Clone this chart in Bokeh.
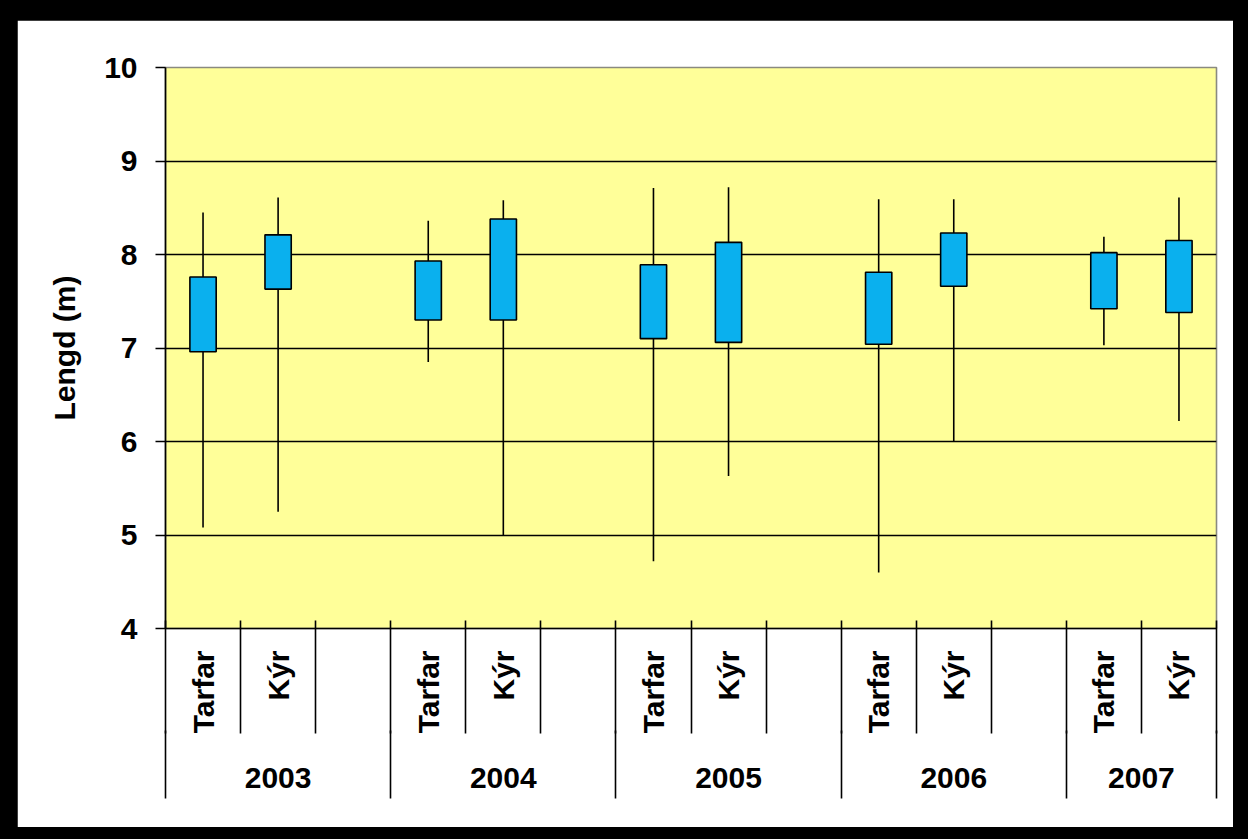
import math
from bokeh.plotting import figure
from bokeh.models import ColumnDataSource, Range1d, LinearAxis, FixedTicker
from bokeh.layouts import column
from bokeh.embed import file_html
from bokeh.resources import INLINE

# ---------------- data ----------------
years = ["2003", "2004", "2005", "2006", "2007"]
groups = ["Tarfar", "Kýr"]
low = [5.08, 5.25, 6.85, 5.00, 4.72, 5.63, 4.60, 6.00, 7.03, 6.22]
q1 = [6.96, 7.63, 7.30, 7.30, 7.10, 7.06, 7.04, 7.66, 7.42, 7.38]
q3 = [7.76, 8.21, 7.93, 8.38, 7.89, 8.13, 7.81, 8.23, 8.02, 8.15]
high = [8.45, 8.61, 8.36, 8.58, 8.71, 8.72, 8.59, 8.59, 8.19, 8.61]
y_ticks = [4, 5, 6, 7, 8, 9, 10]
y_label = "Lengd (m)"

# ---------------- styles ----------------
FONT = "Liberation Sans"
FS = "30px"
YELLOW = "#FFFF99"
BLUE = "#0AB0EE"
LW = 1.6

# category slots: each year has Tarfar, Kýr and an empty slot (not after the last year)
BLANK = ""
slots = []
for i, yr in enumerate(years):
    for g in groups:
        slots.append((yr, g))
    if i < len(years) - 1:
        slots.append((yr, BLANK))

n = len(slots)
centers = [i + 0.5 for i in range(n)]
boundaries = list(range(n + 1))
inner_labels = {c: s[1] for c, s in zip(centers, slots)}

xs = [slots.index((yr, g)) + 0.5 for yr in years for g in groups]
src = ColumnDataSource(dict(x=xs, low=low, q1=q1, q3=q3, high=high))

year_start = {}
for i, s in enumerate(slots):
    year_start.setdefault(s[0], i)
year_bounds = [year_start[y] for y in years] + [n]
year_centers = [(year_bounds[k] + year_bounds[k + 1]) / 2 for k in range(len(years))]
year_labels = {c: y for c, y in zip(year_centers, years)}

p = figure(
    x_range=Range1d(0, n),
    y_range=Range1d(y_ticks[0], y_ticks[-1]),
    width=1216, height=807,
    output_backend="svg", toolbar_location=None, x_axis_location=None,
    min_border_left=148, min_border_right=17, min_border_top=47, min_border_bottom=199,
    background_fill_color=YELLOW, border_fill_color="white",
)
p.outline_line_color = "#8a8a80"
p.outline_line_width = LW

# whiskers and boxes
p.segment(x0="x", y0="low", x1="x", y1="high", source=src, line_color="black", line_width=LW)
p.vbar(x="x", width=0.35, bottom="q1", top="q3", source=src,
       fill_color=BLUE, line_color="black", line_width=LW)

# grid
p.xgrid.visible = False
p.ygrid.ticker = FixedTicker(ticks=y_ticks[1:-1])
p.ygrid.grid_line_color = "black"
p.ygrid.grid_line_width = LW

# y axis
ya = p.yaxis[0]
ya.ticker = FixedTicker(ticks=y_ticks)
ya.axis_line_color = "black"
ya.axis_line_width = LW
ya.major_tick_line_width = LW
ya.major_tick_out = 10
ya.major_tick_in = 0
ya.minor_tick_line_color = None
ya.major_label_standoff = 18
ya.major_label_text_font = FONT
ya.major_label_text_font_style = "bold"
ya.major_label_text_font_size = FS
ya.major_label_text_color = "black"
ya.axis_label = y_label
ya.axis_label_text_font = FONT
ya.axis_label_text_font_style = "bold"
ya.axis_label_text_font_size = FS
ya.axis_label_text_color = "black"
ya.axis_label_standoff = 20

# x axis: category labels, separators as minor ticks
SEP_IN, SEP_OUT = 8, 105
xa = LinearAxis(ticker=FixedTicker(ticks=centers, minor_ticks=boundaries),
                major_label_overrides=inner_labels)
xa.axis_line_color = "black"
xa.axis_line_width = LW
xa.major_tick_line_color = None
xa.major_tick_out = 0
xa.major_tick_in = 0
xa.minor_tick_line_color = "black"
xa.minor_tick_line_width = LW
xa.minor_tick_in = SEP_IN
xa.minor_tick_out = SEP_OUT
xa.major_label_orientation = math.pi / 2
xa.major_label_standoff = 22 - SEP_OUT
xa.major_label_text_font = FONT
xa.major_label_text_font_style = "bold"
xa.major_label_text_font_size = FS
xa.major_label_text_color = "black"
p.add_layout(xa, "below")

# year axis
YSEP_OUT = 62
ga = LinearAxis(ticker=FixedTicker(ticks=year_centers, minor_ticks=year_bounds),
                major_label_overrides=year_labels)
ga.axis_line_color = None
ga.major_tick_line_color = None
ga.major_tick_out = 0
ga.major_tick_in = 0
ga.minor_tick_line_color = "black"
ga.minor_tick_line_width = LW
ga.minor_tick_in = 6
ga.minor_tick_out = YSEP_OUT
ga.major_label_orientation = "horizontal"
ga.major_label_standoff = -31
ga.major_label_text_font = FONT
ga.major_label_text_font_style = "bold"
ga.major_label_text_font_size = FS
ga.major_label_text_color = "black"
p.add_layout(ga, "below")

layout = column(p, styles={"background-color": "#000000", "padding": "20px 15px 12px 17px"})

open("out.html", "w").write(file_html(layout, INLINE))
